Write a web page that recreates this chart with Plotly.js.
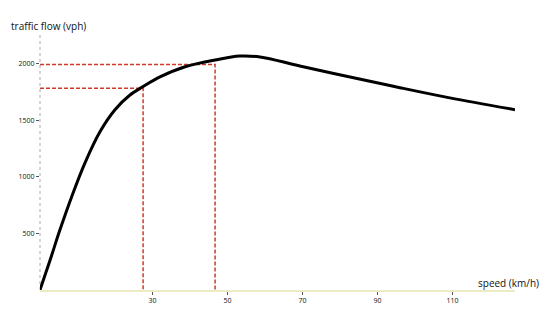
<!DOCTYPE html>
<html>
<head>
<meta charset="utf-8">
<script src="https://cdn.plot.ly/plotly-3.0.1.min.js"></script>
<style>html,body{margin:0;padding:0;background:#fff;}#chart{width:542px;height:322px;}</style>
</head>
<body>
<div id="chart"></div>
<script>
// speed (km/h) vs traffic flow (vph)
const speed = [0, 2.7, 5.3, 8.5, 12, 16, 20, 24, 27.5, 32, 38.7, 46.7, 53.3, 58.7, 69.3, 82.7, 96, 109.3, 126.7];
const flow  = [0, 265, 530, 830, 1125, 1400, 1595, 1725, 1800, 1885, 1975, 2035, 2070, 2062, 1982, 1885, 1790, 1700, 1595];
// reference points marked with dashed guides
const guideSpeed = [27.5, 46.7];
const guideFlow = [1785, 1995];
const xTicks = [30, 50, 70, 90, 110];
const xTickText = ['30', '50', '70', '90', '110'];
const yTicks = [500, 1000, 1500, 2000];
const yTickText = ['500', '1000', '1500', '2000'];

const red = '#cf3b2a';
const traces = [];
for (let i = 0; i < guideSpeed.length; i++) {
  traces.push({
    x: [0, guideSpeed[i], guideSpeed[i]],
    y: [guideFlow[i], guideFlow[i], 0],
    mode: 'lines', type: 'scatter',
    line: {color: red, width: 1.5, dash: '4px,2px'},
    hoverinfo: 'skip', showlegend: false
  });
}
traces.push({
  x: speed, y: flow, mode: 'lines', type: 'scatter',
  line: {color: '#000', width: 3, shape: 'spline', smoothing: 1},
  showlegend: false
});

const layout = {
  width: 542, height: 322,
  margin: {l: 40, r: 27, t: 40, b: 32},
  paper_bgcolor: '#fff', plot_bgcolor: 'rgba(0,0,0,0)',
  font: {family: 'Open Sans, sans-serif', color: '#000'},
  xaxis: {
    range: [0, 126.7], showgrid: false, zeroline: false,
    showline: true, linecolor: '#ecebc4', linewidth: 1.5,
    tickmode: 'array', tickvals: xTicks, ticktext: xTickText,
    ticks: 'outside', ticklen: 3, tickcolor: '#555',
    tickfont: {size: 7, color: '#111'}
  },
  yaxis: {
    range: [0, 2212], showgrid: false, zeroline: false,
    showline: false,
    tickmode: 'array', tickvals: yTicks, ticktext: yTickText,
    ticks: 'outside', ticklen: 3, tickcolor: '#555',
    tickfont: {size: 7, color: '#111'}
  },
  shapes: [
    {type: 'line', xref: 'paper', yref: 'paper', x0: 0, x1: 0, y0: 0, y1: 1.02,
     line: {color: '#aaa', width: 1, dash: 'dot'}, layer: 'below'}
  ],
  annotations: [
    {text: 'traffic flow (vph)', xref: 'paper', yref: 'paper', x: -0.065, y: 1.056,
     xanchor: 'left', yanchor: 'middle', showarrow: false, font: {size: 10, color: '#111'}},
    {text: 'speed (km/h)', xref: 'paper', yref: 'paper', x: 1.055, y: 0.03,
     xanchor: 'right', yanchor: 'middle', showarrow: false, font: {size: 10, color: '#111'}}
  ]
};
Plotly.newPlot('chart', traces, layout, {displayModeBar: false, staticPlot: true});
</script>
</body>
</html>
